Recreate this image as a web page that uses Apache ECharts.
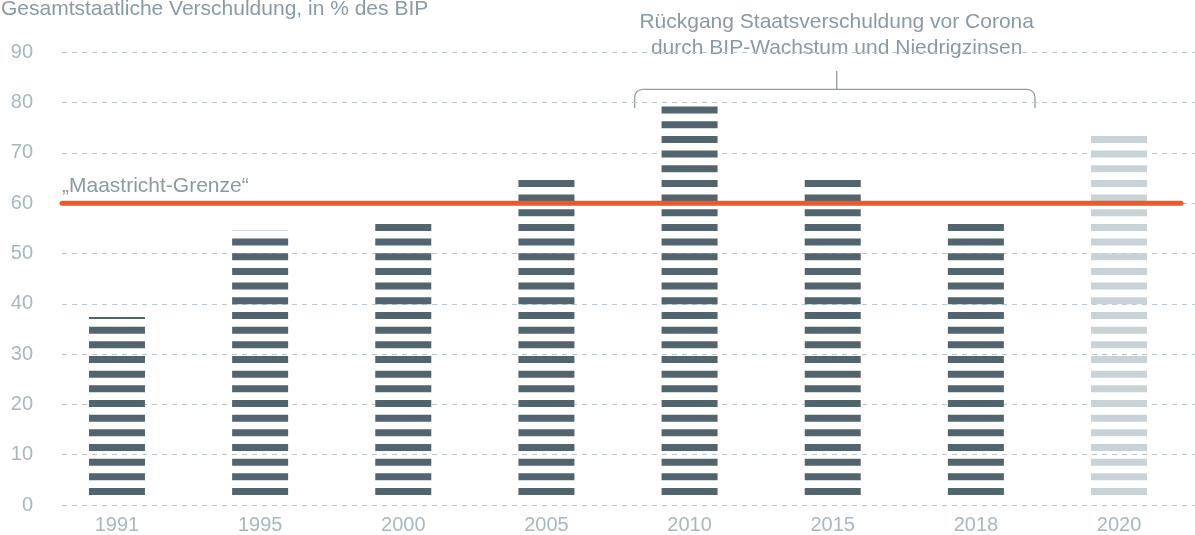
<!DOCTYPE html>
<html><head><meta charset="utf-8">
<script src="https://cdn.jsdelivr.net/npm/echarts@6/dist/echarts.min.js"></script>
<style>html,body{margin:0;padding:0;background:#fff}#c{width:1195px;height:535px}</style>
</head><body><div id="c"></div>
<script>
// ---- data ----
const years = ['1991', '1995', '2000', '2005', '2010', '2015', '2018', '2020'];
const debtValues = [36.2, 53.7, 56.5, 65.4, 79.1, 65.4, 56.5, 74.2];
const lightYears = ['2020'];
const maastrichtLimit = 60;
const yTickValues = [0, 10, 20, 30, 40, 50, 60, 70, 80, 90];
const titleText = 'Gesamtstaatliche Verschuldung, in % des BIP';
const annotationLines = ['Rückgang Staatsverschuldung vor Corona', 'durch BIP-Wachstum und Niedrigzinsen'];
const limitLabel = '„Maastricht-Grenze“';

// ---- styles ----
const FONT = '"Liberation Sans", Arial, sans-serif';
const DARK = '#52646d';
const LIGHT = '#c9d3d7';
const TEXT = '#8a9aa4';
const AXIS_TEXT = '#a9b7bf';
const RED = '#e95a2c';
const BAR_W = 56, STRIPE_H = 7, STRIPE_PERIOD = 14.67;
const yMin = yTickValues[0], yMax = yTickValues[yTickValues.length - 1];
const yInterval = yTickValues[1] - yTickValues[0];
const TOP = 52.3, BOTTOM = 30;

const chart = echarts.init(document.getElementById('c'), null, {renderer: 'canvas'});

const barData = years.map((y, i) => ({
  value: [i, debtValues[i]],
  itemStyle: {color: lightYears.includes(y) ? LIGHT : DARK}
}));

function renderStripedBar(params, api) {
  const idx = api.value(0);
  const val = api.value(1);
  const base = api.coord([idx, yMin]);
  const top = api.coord([idx, val]);
  const color = api.visual('color');
  const x = base[0] - BAR_W / 2;
  const children = [];
  for (let k = 0; k < 200; k++) {
    const b = base[1] - k * STRIPE_PERIOD;
    if (b <= top[1] + 0.01) break;
    const t = Math.max(b - STRIPE_H, top[1]);
    children.push({type: 'rect', shape: {x: x, y: t, width: BAR_W, height: b - t}, style: {fill: color}});
  }
  return {type: 'group', children: children};
}

const bx1 = 634.7, bx2 = 1035, by = 89.3, bEnd = 108, br = 8, bMid = 836.7, bTop = 71;
const bracketStyle = {stroke: '#8d9ca5', lineWidth: 1.3, fill: null};

const option = {
  animation: false,
  backgroundColor: '#ffffff',
  grid: [
    {left: 62, right: 0, top: TOP, bottom: BOTTOM},
    {left: 45.4, right: 4.4, top: TOP, bottom: BOTTOM},
    {left: 62, right: 14, top: TOP, bottom: BOTTOM}
  ],
  xAxis: [
    {gridIndex: 0, type: 'value', min: 0, max: 1, show: false},
    {gridIndex: 1, type: 'category', data: years,
      axisLine: {show: false}, axisTick: {show: false},
      axisLabel: {color: AXIS_TEXT, fontSize: 20, fontFamily: FONT, margin: 20}},
    {gridIndex: 2, type: 'value', min: 0, max: 1, show: false}
  ],
  yAxis: [
    {gridIndex: 0, type: 'value', min: yMin, max: yMax, interval: yInterval,
      axisLine: {show: false}, axisTick: {show: false},
      axisLabel: {color: AXIS_TEXT, fontSize: 20, fontFamily: FONT, margin: 29, padding: [2, 0, 0, 0]},
      splitLine: {show: true, lineStyle: {color: '#bcc8ce', width: 1, type: [5, 5]}}},
    {gridIndex: 1, type: 'value', min: yMin, max: yMax, interval: yInterval, show: false, splitLine: {show: false}},
    {gridIndex: 2, type: 'value', min: yMin, max: yMax, interval: yInterval, show: false, splitLine: {show: false}}
  ],
  series: [
    {
      type: 'custom', xAxisIndex: 1, yAxisIndex: 1,
      data: barData,
      renderItem: renderStripedBar,
      encode: {x: 0, y: 1},
      silent: true, z: 2
    },
    {
      type: 'line', xAxisIndex: 2, yAxisIndex: 2,
      data: [[0, maastrichtLimit], [1, maastrichtLimit]],
      symbol: 'none', silent: true, z: 5,
      lineStyle: {color: RED, width: 5, cap: 'round'}
    }
  ],
  graphic: [
    {type: 'text', left: 1, top: -1, style: {text: titleText, fill: TEXT, font: '21px ' + FONT}},
    {type: 'text', x: bMid, y: 22.5, style: {text: annotationLines[0], fill: TEXT, font: '21px ' + FONT, textAlign: 'center', textVerticalAlign: 'middle'}},
    {type: 'text', x: bMid, y: 48.5, style: {text: annotationLines[1], fill: TEXT, font: '21px ' + FONT, textAlign: 'center', textVerticalAlign: 'middle'}},
    {type: 'text', x: 62, y: 186.5, style: {text: limitLabel, fill: TEXT, font: '21px ' + FONT, textAlign: 'left', textVerticalAlign: 'middle'}},
    {type: 'line', shape: {x1: bMid, y1: bTop, x2: bMid, y2: by}, style: bracketStyle},
    {type: 'line', shape: {x1: bx1 + br, y1: by, x2: bx2 - br, y2: by}, style: bracketStyle},
    {type: 'line', shape: {x1: bx1, y1: by + br, x2: bx1, y2: bEnd}, style: bracketStyle},
    {type: 'line', shape: {x1: bx2, y1: by + br, x2: bx2, y2: bEnd}, style: bracketStyle},
    {type: 'arc', shape: {cx: bx1 + br, cy: by + br, r: br, startAngle: Math.PI, endAngle: Math.PI * 1.5, clockwise: true}, style: bracketStyle},
    {type: 'arc', shape: {cx: bx2 - br, cy: by + br, r: br, startAngle: -Math.PI / 2, endAngle: 0, clockwise: true}, style: bracketStyle}
  ]
};
chart.setOption(option);
</script>
</body></html>
